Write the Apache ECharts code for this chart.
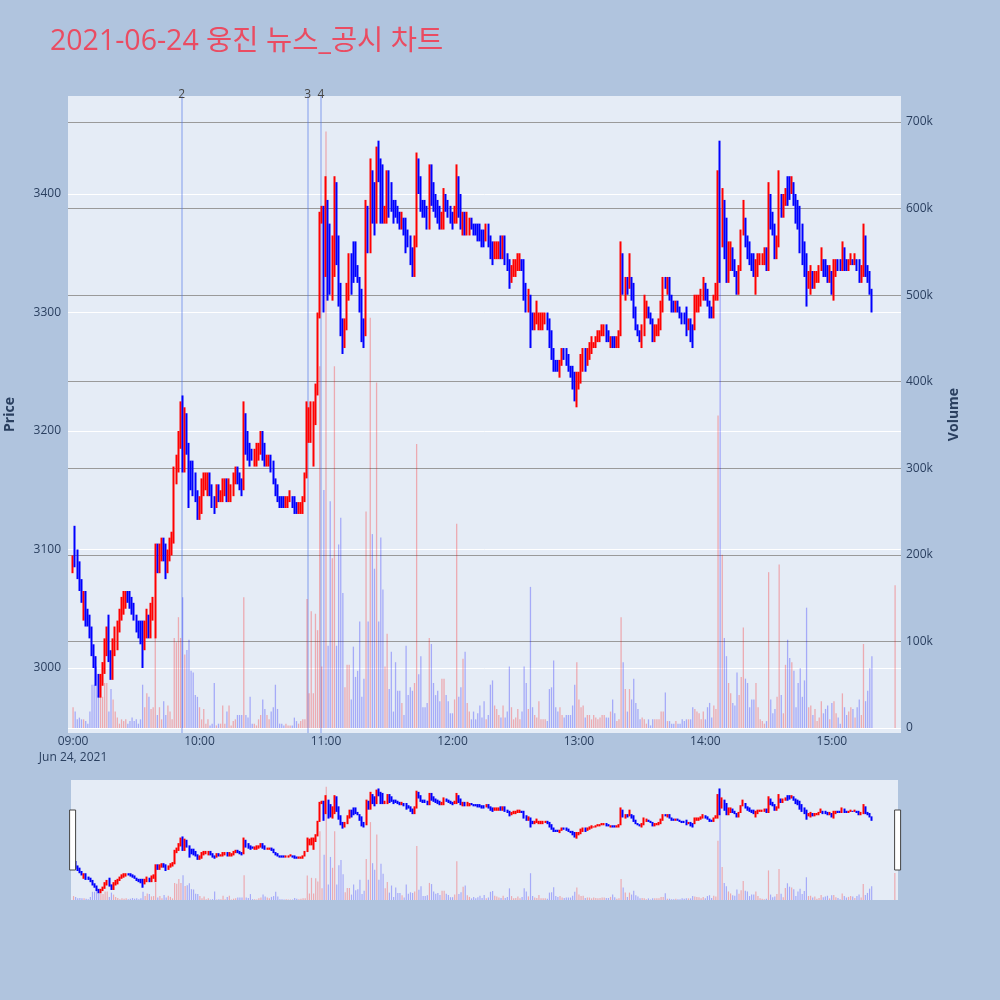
<!DOCTYPE html>
<html><head><meta charset="utf-8">
<script src="https://cdn.jsdelivr.net/npm/echarts@6/dist/echarts.min.js"></script>
<style>html,body{margin:0;padding:0;background:#B0C4DE}#c{width:1000px;height:1000px}</style>
</head><body><div id="c"></div>
<script>
const chartTitle = '2021-06-24 웅진 뉴스_공시 차트';
const timeTicks = ['09:00','10:00','11:00','12:00','13:00','14:00','15:00'];
const dateLabel = 'Jun 24, 2021';
const priceTicks = [3000, 3100, 3200, 3300, 3400];
const volumeTicksK = [0, 100, 200, 300, 400, 500, 600, 700];
const newsMarkers = [['2', '09:51:30'], ['3', '10:51:20'], ['4', '10:57:35']];

// [open, close, low, high] per minute
const ohlc0900 = [
[3080,3095,3080,3095],[3100,3090,3085,3120],[3095,3080,3075,3100],[3085,3070,3065,3090],[3070,3060,3055,3075],
[3045,3065,3040,3065],[3060,3045,3035,3065],[3045,3040,3035,3050],[3040,3030,3025,3045],[3030,3015,3010,3035],
[3015,3005,3000,3020],[3005,2990,2985,3010],[2990,2980,2975,2995],[2980,2990,2975,2995],[2990,3000,2985,3005],
[3000,3015,2995,3025],[3015,3030,3010,3035],[3030,3010,3005,3045],[3010,2995,2990,3015],[2995,3015,2990,3025],
[3015,3025,3010,3035],[3020,3035,3015,3040],[3035,3045,3030,3050],[3045,3055,3040,3060],[3050,3060,3045,3065],
[3055,3065,3050,3065],[3065,3060,3055,3065],[3060,3055,3050,3065],[3055,3050,3045,3060],[3050,3040,3040,3055],
[3040,3035,3030,3045],[3035,3030,3025,3040],[3035,3025,3020,3040],[3030,3020,3000,3040],[3020,3035,3015,3040],
[3030,3045,3025,3050],[3045,3030,3025,3045],[3030,3050,3025,3055],[3045,3055,3040,3060],[3050,3100,3025,3105],
[3100,3085,3080,3105],[3085,3100,3080,3105],[3095,3105,3090,3110],[3105,3095,3090,3110],[3100,3085,3075,3105],
[3085,3095,3080,3100],[3095,3105,3090,3110],[3100,3110,3095,3115],[3110,3160,3105,3170],[3160,3170,3155,3180],
[3170,3195,3165,3200],[3195,3215,3185,3225],[3215,3190,3165,3230],[3190,3210,3165,3220],[3210,3185,3180,3215],
[3185,3150,3135,3190],[3165,3155,3150,3175],[3170,3160,3145,3175],[3160,3145,3140,3165],[3145,3130,3125,3150]];
const ohlc1000 = [
[3130,3140,3125,3145],[3135,3150,3130,3160],[3150,3160,3145,3165],[3155,3165,3150,3165],[3150,3165,3145,3165],
[3165,3150,3145,3165],[3150,3140,3135,3155],[3140,3135,3130,3145],[3140,3150,3135,3155],[3150,3140,3140,3155],
[3140,3145,3140,3150],[3145,3155,3140,3160],[3150,3160,3145,3160],[3160,3145,3140,3160],[3145,3155,3140,3160],
[3145,3150,3140,3155],[3150,3160,3145,3165],[3160,3170,3155,3170],[3170,3160,3155,3170],[3165,3155,3150,3165],
[3160,3150,3145,3160],[3155,3200,3150,3225],[3210,3185,3180,3215],[3195,3180,3175,3200],[3185,3175,3170,3190],
[3185,3175,3175,3185],[3175,3185,3170,3185],[3180,3185,3170,3190],[3180,3190,3175,3190],[3185,3195,3180,3200],
[3195,3180,3175,3200],[3190,3175,3170,3190],[3175,3180,3170,3180],[3175,3180,3170,3180],[3180,3170,3165,3180],
[3170,3160,3155,3175],[3160,3150,3145,3160],[3155,3145,3140,3155],[3145,3140,3135,3145],[3145,3135,3135,3145],
[3140,3135,3135,3145],[3135,3140,3135,3145],[3140,3145,3135,3145],[3140,3145,3140,3150],[3145,3140,3135,3145],
[3140,3135,3130,3145],[3135,3130,3130,3140],[3130,3135,3130,3140],[3130,3135,3130,3140],[3135,3145,3130,3145],
[3145,3160,3140,3165],[3160,3220,3160,3225],[3205,3215,3190,3220],[3195,3215,3190,3225],[3200,3220,3170,3225],
[3210,3235,3205,3240],[3235,3300,3230,3300],[3300,3385,3295,3385],[3380,3385,3375,3390],[3390,3340,3300,3390]];
const ohlc1100 = [
[3340,3400,3330,3415],[3390,3330,3310,3395],[3350,3320,3315,3375],[3320,3360,3310,3365],[3350,3410,3330,3415],
[3405,3360,3340,3410],[3360,3320,3305,3365],[3320,3290,3280,3325],[3290,3270,3265,3295],[3275,3290,3270,3295],
[3290,3315,3285,3325],[3315,3345,3310,3350],[3350,3320,3315,3350],[3345,3335,3325,3360],[3350,3335,3330,3360],
[3340,3330,3325,3340],[3330,3305,3300,3330],[3310,3285,3275,3320],[3290,3275,3270,3295],[3285,3390,3280,3395],
[3390,3355,3350,3390],[3355,3400,3350,3430],[3415,3385,3375,3420],[3405,3370,3365,3410],[3380,3430,3375,3440],
[3445,3415,3410,3445],[3430,3385,3375,3430],[3410,3380,3375,3425],[3375,3385,3375,3390],[3380,3415,3375,3420],
[3415,3385,3380,3420],[3405,3390,3385,3410],[3395,3380,3375,3395],[3395,3380,3380,3395],[3390,3380,3375,3390],
[3385,3375,3370,3385],[3370,3380,3370,3385],[3380,3370,3365,3380],[3375,3360,3350,3380],[3370,3360,3355,3370],
[3360,3345,3340,3365],[3350,3335,3330,3355],[3335,3360,3330,3365],[3360,3425,3355,3435],[3425,3405,3400,3430],
[3410,3390,3385,3415],[3395,3385,3380,3395],[3390,3380,3380,3395],[3385,3375,3370,3390],[3375,3420,3370,3425],
[3420,3400,3390,3425],[3410,3390,3385,3410],[3395,3385,3380,3400],[3390,3380,3375,3395],[3385,3375,3370,3390],
[3370,3380,3370,3385],[3375,3400,3370,3405],[3395,3385,3385,3400],[3390,3380,3380,3395],[3385,3375,3375,3390]];
const ohlc1200 = [
[3380,3375,3370,3385],[3375,3385,3375,3390],[3380,3420,3375,3425],[3410,3385,3380,3415],[3395,3375,3370,3400],
[3365,3380,3365,3385],[3385,3370,3365,3385],[3370,3380,3365,3385],[3370,3375,3365,3380],[3380,3370,3370,3380],
[3375,3370,3365,3375],[3375,3365,3365,3375],[3370,3365,3360,3375],[3370,3360,3360,3375],[3370,3360,3355,3370],
[3365,3355,3355,3370],[3365,3375,3360,3375],[3375,3360,3355,3375],[3360,3345,3345,3365],[3355,3345,3340,3360],
[3345,3355,3345,3360],[3345,3355,3345,3360],[3350,3355,3345,3360],[3360,3350,3345,3365],[3350,3365,3345,3365],
[3365,3345,3340,3365],[3345,3335,3335,3350],[3340,3325,3320,3345],[3330,3340,3325,3340],[3330,3340,3330,3345],
[3335,3345,3330,3345],[3340,3350,3335,3350],[3340,3345,3335,3350],[3345,3340,3335,3345],[3345,3320,3310,3345],
[3325,3305,3300,3325],[3305,3315,3300,3320],[3310,3285,3270,3315],[3300,3290,3285,3300],[3290,3300,3285,3300],
[3290,3295,3290,3310],[3290,3295,3285,3300],[3290,3295,3285,3300],[3290,3300,3285,3300],[3295,3300,3290,3300],
[3300,3290,3285,3300],[3290,3275,3270,3295],[3280,3265,3260,3285],[3265,3255,3250,3270],[3260,3255,3250,3260],
[3255,3250,3250,3260],[3250,3255,3245,3260],[3255,3265,3255,3270],[3270,3265,3260,3270],[3265,3260,3255,3270],
[3260,3255,3250,3265],[3255,3250,3245,3255],[3250,3240,3235,3255],[3245,3225,3225,3250],[3225,3245,3220,3250]];
const ohlc1300 = [
[3240,3245,3235,3250],[3245,3260,3240,3265],[3255,3265,3250,3270],[3265,3255,3250,3270],[3260,3270,3255,3270],
[3265,3275,3260,3275],[3270,3275,3265,3280],[3270,3275,3270,3275],[3275,3280,3270,3280],[3275,3280,3275,3285],
[3280,3285,3275,3285],[3280,3285,3280,3290],[3285,3290,3280,3290],[3290,3280,3275,3290],[3280,3275,3275,3285],
[3275,3280,3270,3280],[3280,3275,3270,3280],[3280,3270,3270,3280],[3270,3275,3270,3280],[3270,3280,3270,3285],
[3280,3355,3280,3360],[3350,3320,3315,3350],[3315,3330,3310,3330],[3330,3320,3315,3330],[3325,3345,3320,3350],
[3330,3315,3310,3330],[3320,3300,3295,3325],[3305,3290,3285,3305],[3290,3285,3280,3290],[3285,3280,3275,3285],
[3275,3285,3270,3290],[3285,3310,3280,3315],[3300,3305,3295,3310],[3305,3300,3295,3305],[3300,3295,3290,3300],
[3295,3280,3275,3295],[3280,3290,3275,3290],[3280,3290,3280,3290],[3285,3290,3280,3295],[3290,3305,3285,3310],
[3305,3325,3300,3330],[3330,3320,3320,3330],[3320,3330,3315,3330],[3330,3315,3310,3330],[3315,3305,3300,3315],
[3310,3305,3300,3310],[3305,3310,3300,3310],[3310,3300,3300,3310],[3305,3295,3295,3305],[3300,3295,3290,3300],
[3300,3295,3290,3300],[3300,3285,3280,3305],[3285,3290,3285,3295],[3295,3280,3275,3295],[3285,3275,3270,3290],
[3290,3310,3285,3315],[3300,3310,3300,3315],[3305,3310,3300,3315],[3310,3320,3305,3320],[3310,3325,3310,3330]];
const ohlc1400 = [
[3325,3315,3310,3325],[3320,3310,3305,3320],[3310,3300,3295,3310],[3305,3295,3295,3305],[3295,3310,3295,3315],
[3310,3320,3310,3325],[3320,3415,3310,3420],[3410,3325,3325,3445],[3360,3400,3355,3405],[3390,3355,3345,3395],
[3370,3330,3325,3380],[3330,3350,3325,3360],[3340,3355,3335,3360],[3355,3340,3335,3355],[3345,3335,3330,3345],
[3335,3320,3315,3335],[3320,3335,3315,3340],[3335,3365,3335,3370],[3365,3385,3365,3395],[3375,3360,3355,3380],
[3360,3350,3345,3365],[3355,3345,3340,3360],[3350,3340,3335,3350],[3345,3330,3330,3350],[3330,3345,3315,3345],
[3335,3345,3330,3350],[3340,3345,3340,3350],[3340,3345,3340,3350],[3345,3350,3340,3355],[3350,3340,3335,3355],
[3340,3395,3335,3410],[3395,3375,3370,3400],[3380,3370,3365,3385],[3370,3350,3345,3375],[3350,3360,3345,3365],
[3360,3400,3355,3420],[3395,3385,3380,3400],[3385,3395,3380,3400],[3390,3400,3390,3405],[3410,3400,3390,3415],
[3405,3400,3395,3415],[3400,3410,3400,3415],[3410,3395,3390,3410],[3400,3380,3375,3400],[3390,3375,3370,3395],
[3385,3360,3350,3390],[3370,3345,3340,3375],[3355,3335,3330,3360],[3345,3320,3305,3350],[3320,3330,3320,3335],
[3320,3335,3315,3340],[3335,3325,3320,3335],[3320,3330,3320,3335],[3325,3335,3325,3335],[3330,3335,3325,3340],
[3335,3345,3335,3355],[3345,3335,3330,3345],[3340,3335,3330,3345],[3340,3330,3325,3340],[3325,3335,3325,3340]];
const ohlc1500 = [
[3335,3320,3315,3335],[3320,3340,3310,3345],[3335,3345,3330,3345],[3345,3340,3335,3345],[3345,3340,3335,3345],
[3340,3355,3335,3360],[3355,3340,3335,3355],[3345,3340,3335,3345],[3340,3345,3335,3345],[3340,3345,3340,3350],
[3345,3340,3340,3345],[3340,3345,3340,3350],[3345,3340,3335,3345],[3340,3330,3325,3345],[3325,3335,3325,3340],
[3330,3365,3330,3375],[3365,3340,3330,3365],[3340,3330,3325,3340],[3330,3315,3315,3335],[3315,3305,3300,3320]];
const ohlc1530 = [[3350,3350,3350,3350]];

// volume per minute, thousands of shares
const vol0900 = [24,19,10,12,10,10,8,5,19,50, 50,71,38,36,36,52,52,19,45,33, 19,12,5,10,8,10,5,8,12,8,
  10,5,10,50,24,40,36,22,24,104, 15,24,10,31,15,26,19,10,104,99, 128,104,151,85,90,102,66,64,38,36];
const vol1000 = [24,10,22,5,10,3,5,52,3,5, 5,26,5,19,26,3,8,10,15,15, 15,151,15,12,36,5,5,3,10,15,
  33,22,15,10,19,24,50,22,5,5, 3,5,3,3,3,12,8,5,8,10, 10,149,40,135,40,132,113,418,71,275];
const vol1100 = [689,95,262,196,418,95,212,243,156,47, 73,73,33,94,59,66,123,36,57,250,
  123,474,224,184,399,123,220,160,71,109, 45,88,19,76,43,43,29,15,95,38,
  47,43,52,328,62,83,24,24,29,104, 97,52,38,43,31,57,57,38,31,17];
const vol1200 = [17,33,236,36,47,80,88,29,19,10, 19,10,17,26,12,31,10,15,50,55,
  26,22,15,12,26,12,19,71,24,10, 12,22,10,19,71,52,22,163,24,15,
  12,31,10,10,10,8,45,47,78,24, 19,24,15,12,15,15,15,26,50,76];
const vol1300 = [33,24,26,12,15,15,10,15,12,10, 12,15,15,12,12,19,33,17,8,10,
  128,76,45,19,45,33,57,29,22,10, 12,10,5,10,3,10,10,10,10,19,
  19,41,8,8,5,5,8,5,5,10, 8,10,10,10,24,22,19,17,10,19];
const vol1400 = [10,24,29,12,26,22,361,600,200,104, 83,52,40,29,26,64,38,59,116,57,
  52,24,33,33,52,24,10,8,5,8, 180,33,17,22,36,189,38,17,73,102,
  81,76,66,24,52,69,36,55,139,24, 26,15,22,8,12,31,17,22,26,10];
const vol1500 = [29,31,17,12,5,40,24,15,19,24, 22,12,24,33,15,97,31,43,69,83];
const vol1530 = [165];

const blocks = [
  ['09:00', ohlc0900, vol0900], ['10:00', ohlc1000, vol1000], ['11:00', ohlc1100, vol1100],
  ['12:00', ohlc1200, vol1200], ['13:00', ohlc1300, vol1300], ['14:00', ohlc1400, vol1400],
  ['15:00', ohlc1500, vol1500], ['15:30', ohlc1530, vol1530]
];

function toMin(t) {
  const p = t.split(':').map(Number);
  return (p[0] - 9) * 60 + p[1] + (p[2] || 0) / 60;
}

const UP = '#FF0000', DOWN = '#0000FF';
const UPV = 'rgba(255,0,0,0.28)', DOWNV = 'rgba(0,0,255,0.28)';
const candles = [], vols = [];
blocks.forEach(([start, rows, vs]) => {
  const base = toMin(start);
  rows.forEach((r, i) => {
    const x = base + i;
    candles.push([x, r[0], r[1], r[2], r[3]]);
    vols.push({ value: [x, vs[i]], itemStyle: { color: r[1] >= r[0] ? UPV : DOWNV } });
  });
});

const FONT = '"Open Sans", "Noto Sans", "Noto Sans CJK KR", sans-serif';
const TXT = '#2a3f5f';
const X_MIN = -2.4, X_MAX = 392.8;
const tickMins = timeTicks.map(toMin);

const candleStyle = {
  color: UP, color0: DOWN, borderColor: UP, borderColor0: DOWN,
  borderColorDoji: UP, borderWidth: 2
};

const hiddenX = (grid, min, max) => ({
  type: 'value', gridIndex: grid, min: min, max: max, show: false,
  splitLine: { show: false }
});

const option = {
  backgroundColor: '#B0C4DE',
  animation: false,
  textStyle: { fontFamily: FONT },
  title: {
    text: chartTitle, left: 50, top: 28, padding: 0,
    textStyle: { color: '#EA4C62', fontSize: 28.5, fontWeight: 'normal', fontFamily: FONT }
  },
  grid: [
    { left: 68, top: 96, width: 833, height: 637, show: true, backgroundColor: '#E5ECF6', borderWidth: 0, containLabel: false, outerBoundsMode: 'none' },
    { left: 68, top: 194, width: 833, height: 474, show: false, containLabel: false, outerBoundsMode: 'none' },
    { left: 68, top: 122, width: 833, height: 606, show: false, containLabel: false, outerBoundsMode: 'none' },
    { left: 71, top: 780, width: 827, height: 120, show: true, backgroundColor: '#E5ECF6', borderWidth: 0, containLabel: false, outerBoundsMode: 'none' }
  ],
  xAxis: [
    {
      type: 'value', gridIndex: 0, min: X_MIN, max: X_MAX,
      axisLine: { show: false }, axisTick: { show: false }, splitLine: { show: false },
      axisLabel: {
        customValues: tickMins, color: TXT, fontSize: 12, margin: 1, lineHeight: 16,
        formatter: v => {
          const idx = tickMins.findIndex(m => Math.abs(m - v) < 1e-6);
          if (idx < 0) return '';
          return idx === 0 ? timeTicks[0] + '\n' + dateLabel : timeTicks[idx];
        }
      }
    },
    hiddenX(1, X_MIN, X_MAX),
    hiddenX(2, X_MIN, X_MAX),
    hiddenX(3, -1.2, 391.5)
  ],
  yAxis: [
    {
      type: 'value', gridIndex: 0, min: 0, max: 1, position: 'left',
      axisLine: { show: false }, axisTick: { show: false }, axisLabel: { show: false }, splitLine: { show: false },
      name: 'Price', nameLocation: 'middle', nameGap: 51, nameRotate: 90,
      nameTextStyle: { color: TXT, fontSize: 14, fontWeight: 'bold' }
    },
    {
      type: 'value', gridIndex: 0, min: 0, max: 1, position: 'right',
      axisLine: { show: false }, axisTick: { show: false }, axisLabel: { show: false }, splitLine: { show: false },
      name: 'Volume', nameLocation: 'middle', nameGap: 46, nameRotate: 90,
      nameTextStyle: { color: TXT, fontSize: 14, fontWeight: 'bold' }
    },
    {
      type: 'value', gridIndex: 1, min: priceTicks[0], max: priceTicks[priceTicks.length - 1], interval: 100,
      position: 'left',
      axisLine: { show: false }, axisTick: { show: false },
      axisLabel: { color: TXT, fontSize: 12, margin: 7, formatter: v => String(v) },
      splitLine: { show: true, lineStyle: { color: '#FFFFFF', width: 1 } }
    },
    {
      type: 'value', gridIndex: 2, min: volumeTicksK[0], max: volumeTicksK[volumeTicksK.length - 1], interval: 100,
      position: 'right',
      axisLine: { show: false }, axisTick: { show: false },
      axisLabel: { color: TXT, fontSize: 12, margin: 5, formatter: v => v === 0 ? '0' : v + 'k' },
      splitLine: { show: true, lineStyle: {
        color: ['#FFFFFF', '#9A9A9A', '#9A9A9A', '#9A9A9A', '#9A9A9A', '#9A9A9A', '#9A9A9A', '#9A9A9A'], width: 1.2 } }
    },
    { type: 'value', gridIndex: 3, min: 2945, max: 3483, show: false, splitLine: { show: false } },
    { type: 'value', gridIndex: 3, min: 0, max: 730, show: false, splitLine: { show: false } }
  ],
  dataZoom: [{
    type: 'slider', xAxisIndex: 3, filterMode: 'none', start: 0, end: 100,
    left: 71, right: 102, top: 780, height: 120,
    backgroundColor: 'rgba(0,0,0,0)', borderColor: 'rgba(0,0,0,0)', fillerColor: 'rgba(0,0,0,0)',
    showDataShadow: false, showDetail: false, brushSelect: false,
    handleIcon: 'path://M0,0 L6,0 L6,60 L0,60 Z', handleSize: '50%',
    handleStyle: { color: '#FFFFFF', borderColor: '#444444', borderWidth: 1 },
    moveHandleSize: 0, z: 20
  }],
  series: [
    {
      type: 'scatter', xAxisIndex: 0, yAxisIndex: 0, data: [], silent: true,
      markLine: {
        silent: true, symbol: ['none', 'none'], z: 1,
        lineStyle: { color: 'rgba(80,120,230,0.45)', width: 1.5, type: 'solid' },
        label: { show: true, position: 'end', formatter: '{b}', color: '#444', fontSize: 12, distance: -5 },
        data: newsMarkers.map(([n, t]) => ({ name: n, xAxis: toMin(t) }))
      }
    },
    {
      type: 'bar', xAxisIndex: 2, yAxisIndex: 3, data: vols, barWidth: 1.3, z: 3, silent: true
    },
    {
      type: 'candlestick', xAxisIndex: 1, yAxisIndex: 2, data: candles, encode: { x: 0, y: [1, 2, 3, 4] },
      barWidth: 0.8, clip: false, z: 5, silent: true, itemStyle: candleStyle
    },
    {
      type: 'bar', xAxisIndex: 3, yAxisIndex: 5, data: vols, barWidth: 1.2, z: 3, silent: true
    },
    {
      type: 'candlestick', xAxisIndex: 3, yAxisIndex: 4, data: candles, encode: { x: 0, y: [1, 2, 3, 4] },
      barWidth: 0.8, z: 5, silent: true, itemStyle: candleStyle
    }
  ]
};

const chart = echarts.init(document.getElementById('c'), null, { renderer: 'canvas' });
chart.setOption(option);
</script>
</body></html>
